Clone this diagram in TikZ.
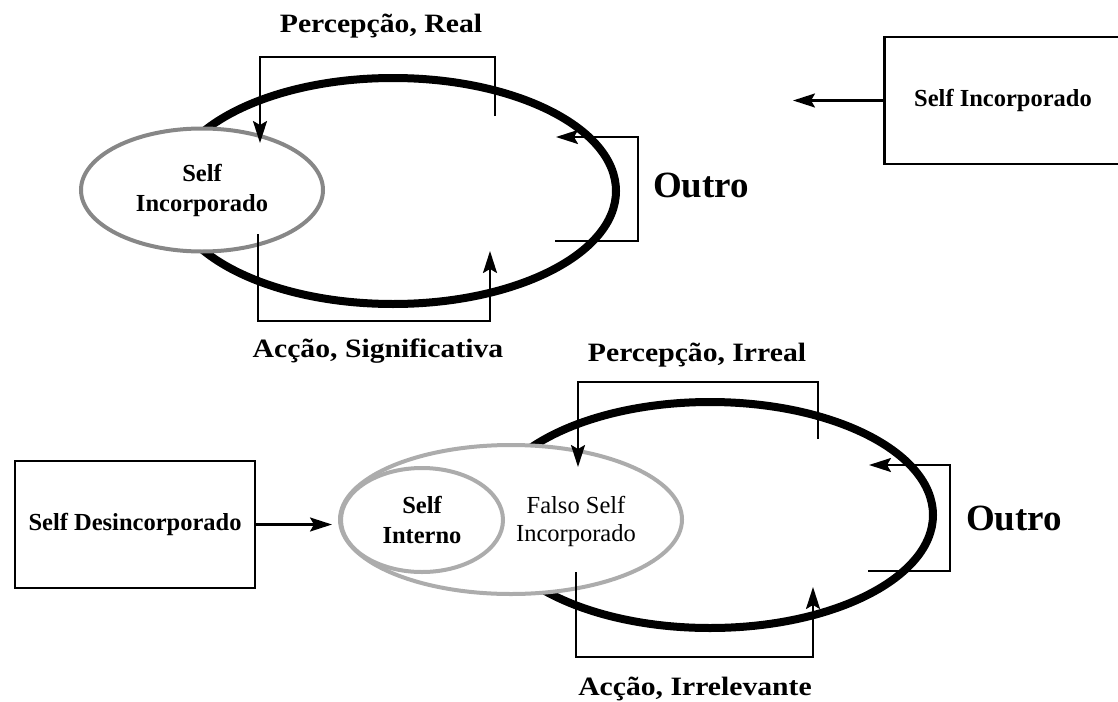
\documentclass[tikz,border=0pt]{standalone}
\usepackage{fontspec}
\setmainfont{Liberation Serif}
\newfontfamily\widefont{Liberation Serif}[FakeStretch=1.12]
\usetikzlibrary{arrows.meta,shapes.geometric,positioning}
\definecolor{selfgray}{RGB}{135,135,135}
\definecolor{falsogray}{RGB}{172,172,172}

\begin{document}
\begin{tikzpicture}[
  x=1pt, y=-1pt,
  > = {Stealth[length=22pt,width=14pt,inset=4pt]},
  outro/.style = {draw,ellipse,line width=8pt,minimum width=446pt,minimum height=226pt,inner sep=0pt},
  selfell/.style = {draw=#1,fill=white,ellipse,line width=4pt,inner sep=0pt,align=center},
  txt/.style = {font=\bfseries\fontsize{24.5}{30}\selectfont,align=center},
  lbl/.style = {anchor=base,font=\widefont\bfseries\fontsize{26.5}{30}\selectfont},
  outrolbl/.style = {anchor=base,font=\bfseries\fontsize{37}{44}\selectfont},
  box/.style = {draw,line width=2.8pt,inner sep=0pt,minimum width=240pt,minimum height=127pt},
  loop/.style = {line width=2.2pt,->},
  ]
  \useasboundingbox (0,0) rectangle (1118,701);

  % upper part
  \node[outro] (outroA) at (393,191) {};
  \node[selfell=selfgray,txt,minimum width=242pt,minimum height=123pt] (selfA) at (202,190) {Self\\Incorporado};

  \coordinate (pa1) at (495,116);
  \coordinate (pa2) at (260,57);
  \coordinate (pa3) at (260,143);
  \coordinate (aa1) at (258,234);
  \coordinate (aa2) at (490,321);
  \coordinate (aa3) at (490,251);
  \coordinate (oa1) at (555,241);
  \coordinate (oa2) at (638,137);
  \coordinate (oa3) at (556,137);

  \draw[loop] (pa1) |- (pa2) -- (pa3);
  \draw[loop] (aa1) |- (aa2) -- (aa3);
  \draw[loop] (oa1) -| (oa2) -- (oa3);

  \node[lbl] (percA) at (381,33) {Percepção, Real};
  \node[lbl] (accA) at (378,357) {Acção, Significativa};
  \node[outrolbl] (outA) at (701,197) {Outro};

  \node[box,txt,anchor=west] (boxA) at (883,100.5) {};
  \node[txt] (boxAtxt) at (1003,100.5) {Self Incorporado};
  \coordinate (inA) at (793,100.5);
  \draw[loop] (boxA.west) -- (inA);

  % lower part
  \node[outro] (outroB) at (710,515) {};
  \node[selfell=falsogray,minimum width=342pt,minimum height=149pt] (falso) at (511,519.5) {};
  \node[selfell=falsogray,txt,minimum width=162pt,minimum height=104pt] (interno) at (422,520) {Self\\Interno};
  \node[align=center,font=\fontsize{24.5}{28}\selectfont] (falsotxt) at (576,521) {Falso Self\\Incorporado};

  \coordinate (pb1) at (818,439);
  \coordinate (pb2) at (578,382);
  \coordinate (pb3) at (578,467);
  \coordinate (ab1) at (576,572);
  \coordinate (ab2) at (813,657);
  \coordinate (ab3) at (813,587);
  \coordinate (ob1) at (868,571);
  \coordinate (ob2) at (950,465);
  \coordinate (ob3) at (869,465);

  \draw[loop] (pb1) |- (pb2) -- (pb3);
  \draw[loop] (ab1) |- (ab2) -- (ab3);
  \draw[loop] (ob1) -| (ob2) -- (ob3);

  \node[lbl] (percB) at (697,361) {Percepção, Irreal};
  \node[lbl] (accB) at (695,695) {Acção, Irrelevante};
  \node[outrolbl] (outB) at (1014,530) {Outro};

  \node[box,txt] (desin) at (135,524.5) {Self Desincorporado};
  \coordinate (inB) at (332,524.5);
  \draw[loop] (desin.east) -- (inB);

\end{tikzpicture}
\end{document}
